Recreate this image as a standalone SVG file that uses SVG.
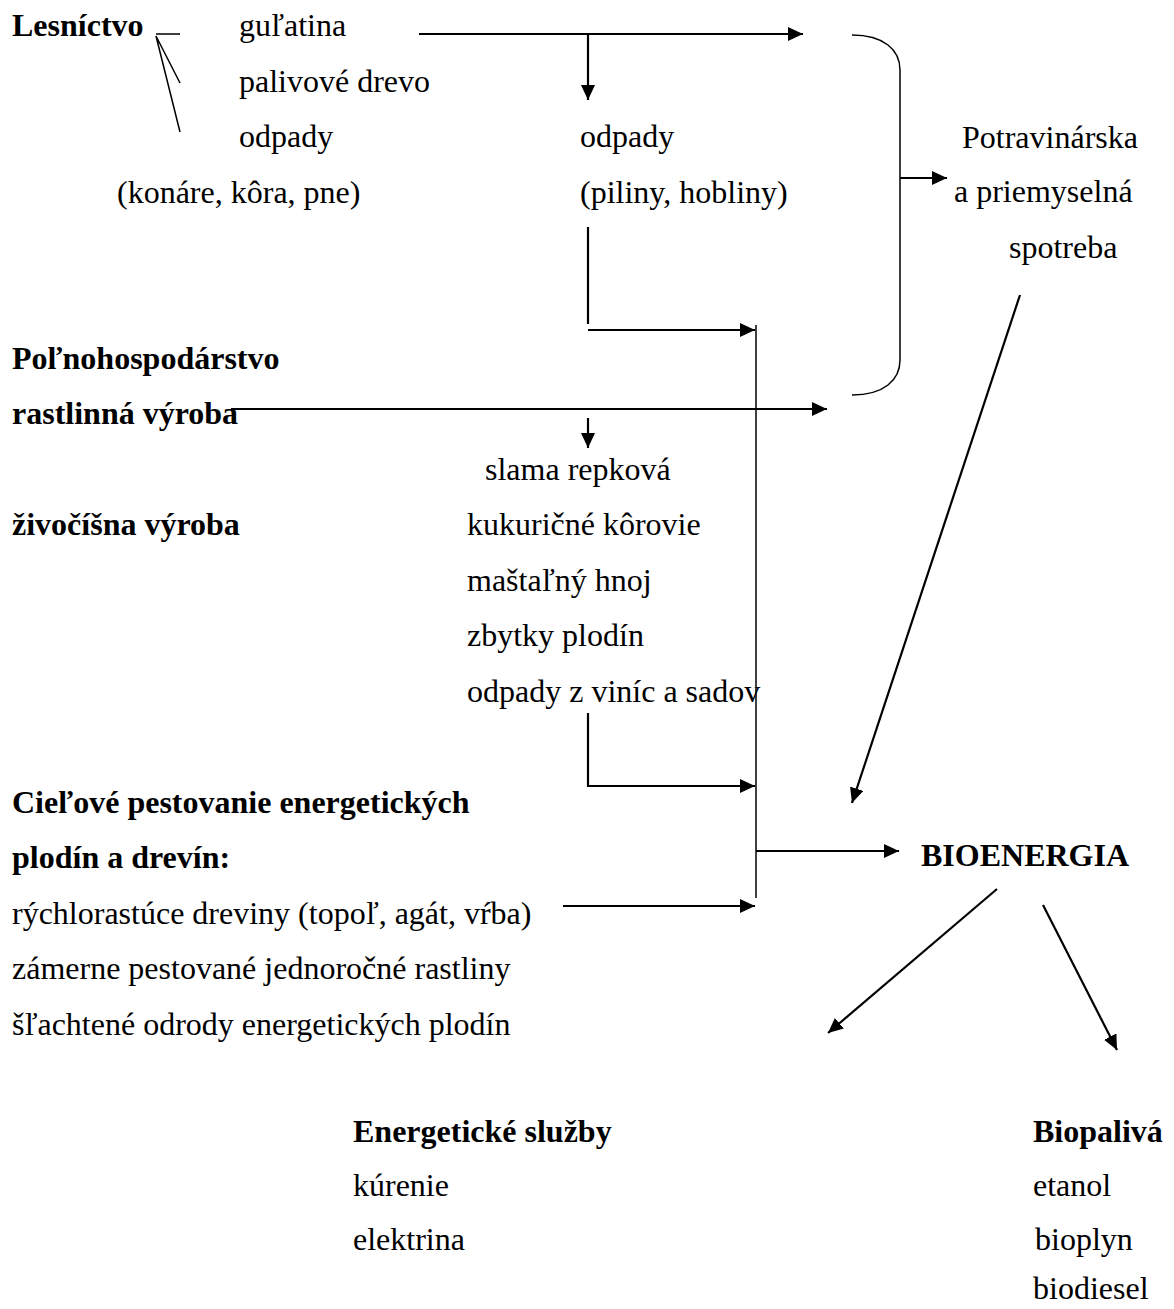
<svg xmlns="http://www.w3.org/2000/svg" width="1174" height="1309" viewBox="0 0 1174 1309">
<style>
text{font-family:"Liberation Serif","Times New Roman",serif;font-size:32px;fill:#000}
.b{font-weight:bold}
.c{fill:none;stroke:#000;stroke-width:2.2}
.t{fill:none;stroke:#000;stroke-width:1.5}
</style>
<defs>
<marker id="ah" markerUnits="userSpaceOnUse" markerWidth="16" markerHeight="14" refX="15" refY="7" orient="auto">
<path d="M0,0 L15,7 L0,14 z" fill="#000"/>
</marker>
</defs>
<rect width="1174" height="1309" fill="#fff"/>
<g id="connectors">
<path class="t" d="M180,34 H156 M156,36 L180,83 M156,36 L180,132"/>
<path class="c" d="M419,34 H803" marker-end="url(#ah)"/>
<path class="c" d="M588,34 V100" marker-end="url(#ah)"/>
<path class="t" d="M852,35 C884,35 900,50 900,70 L900,360 C900,380 884,395 852,395"/>
<path class="c" d="M900,178 H947" marker-end="url(#ah)"/>
<path class="c" d="M1020,295 L852,803" marker-end="url(#ah)"/>
<path class="c" d="M588,227 V324"/>
<path class="c" d="M588,330 H755" marker-end="url(#ah)"/>
<path class="t" d="M756,325 V898"/>
<path class="c" d="M231,409 H827" marker-end="url(#ah)"/>
<path class="c" d="M588,418 V448" marker-end="url(#ah)"/>
<path class="c" d="M588,713 V786 H755" marker-end="url(#ah)"/>
<path class="c" d="M756,851 H899" marker-end="url(#ah)"/>
<path class="c" d="M563,906 H755" marker-end="url(#ah)"/>
<path class="c" d="M997,889 L828,1033" marker-end="url(#ah)"/>
<path class="c" d="M1043,905 L1117,1050" marker-end="url(#ah)"/>
</g>
<g id="lesnictvo">
<text class="b" x="12" y="36">Lesníctvo</text>
<text x="239" y="36">guľatina</text>
<text x="239" y="92">palivové drevo</text>
<text x="239" y="147">odpady</text>
<text x="117" y="203">(konáre, kôra, pne)</text>
</g>
<g id="odpady-piliny">
<text x="580" y="147">odpady</text>
<text x="580" y="203">(piliny, hobliny)</text>
</g>
<g id="spotreba">
<text x="962" y="148">Potravinárska</text>
<text x="954" y="202">a priemyselná</text>
<text x="1009" y="258">spotreba</text>
</g>
<g id="polnohospodarstvo">
<text class="b" x="12" y="369">Poľnohospodárstvo</text>
<text class="b" x="12" y="424">rastlinná výroba</text>
<text class="b" x="12" y="535">živočíšna výroba</text>
</g>
<g id="odpady-pol">
<text x="485" y="480">slama repková</text>
<text x="467" y="535">kukuričné kôrovie</text>
<text x="467" y="591">maštaľný hnoj</text>
<text x="467" y="646">zbytky plodín</text>
<text x="467" y="702">odpady z viníc a sadov</text>
</g>
<g id="cielove">
<text class="b" x="12" y="813">Cieľové pestovanie energetických</text>
<text class="b" x="12" y="868">plodín a drevín:</text>
<text x="12" y="924">rýchlorastúce dreviny (topoľ, agát, vŕba)</text>
<text x="12" y="979">zámerne pestované jednoročné rastliny</text>
<text x="12" y="1035">šľachtené odrody energetických plodín</text>
</g>
<g id="bioenergia">
<text class="b" x="921" y="866">BIOENERGIA</text>
</g>
<g id="energeticke-sluzby">
<text class="b" x="353" y="1142">Energetické služby</text>
<text x="353" y="1196">kúrenie</text>
<text x="353" y="1250">elektrina</text>
</g>
<g id="biopaliva">
<text class="b" x="1033" y="1142">Biopalivá</text>
<text x="1033" y="1196">etanol</text>
<text x="1035" y="1250">bioplyn</text>
<text x="1033" y="1299">biodiesel</text>
</g>
</svg>
